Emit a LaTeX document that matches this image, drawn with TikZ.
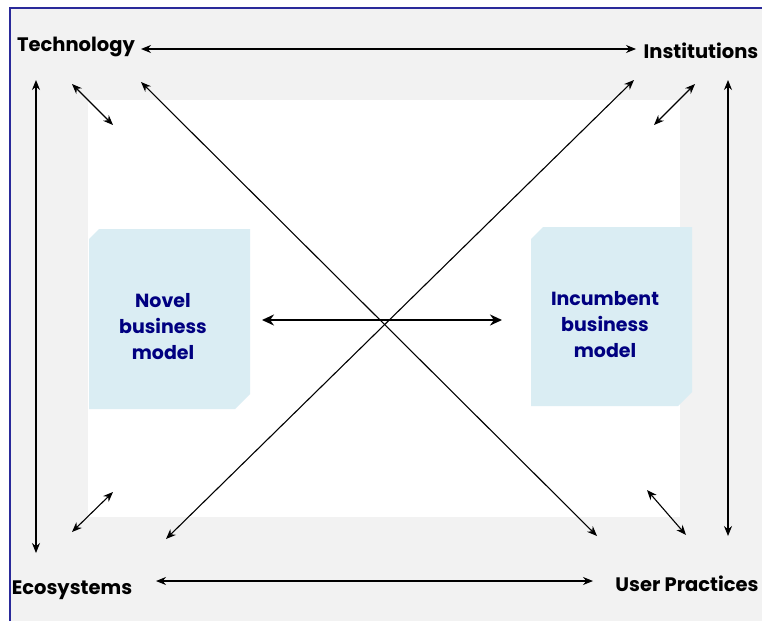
\documentclass[tikz,border=0pt]{standalone}
\usepackage{fontspec}
\setmainfont{Poppins}
\usetikzlibrary{arrows.meta}
\definecolor{bgray}{HTML}{F2F2F2}
\definecolor{boxblue}{HTML}{DAEDF3}
\definecolor{navytext}{HTML}{000080}
\definecolor{frameblue}{HTML}{2A2A9A}
\tikzset{
  lbl/.style={font=\bfseries\fontsize{19.5}{22}\selectfont, text=black, inner sep=0pt},
  bmtext/.style={font=\bfseries\fontsize{19}{26}\selectfont, text=navytext, align=center, inner sep=0pt},
  rel/.style={line width=1.1pt, {Stealth[length=10pt,width=8pt]}-{Stealth[length=10pt,width=8pt]}},
  relthick/.style={line width=2.8pt, {Stealth[length=12pt,width=11pt]}-{Stealth[length=12pt,width=11pt]}},
  bmbox/.style={fill=boxblue, draw=none},
}
\begin{document}
\begin{tikzpicture}[x=1pt,y=-1pt]
\useasboundingbox (0,0) rectangle (762,621);
% backgrounds
\fill[bgray] (10,8) rectangle (762,621);
\fill[white] (88,100) rectangle (680,517);
\draw[frameblue, line width=1.2pt] (10,621) -- (10,8) -- (762,8);
% business model boxes
\fill[bmbox] (99,229) -- (250,229) -- (250,394) -- (235,409) -- (89,409) -- (89,239) -- cycle;
\fill[bmbox] (543,227) -- (692,227) -- (692,392) -- (678,406) -- (531,406) -- (531,239) -- cycle;
\node[bmtext] (novel) at (163,327) {Novel\\business\\model};
\node[bmtext] (incumbent) at (605,325) {Incumbent\\business\\model};
% labels
\node[lbl] (tech) at (76,47) {Technology};
\node[lbl] (inst) at (701,51) {Institutions};
\node[lbl] (eco) at (72,590) {Ecosystems};
\node[lbl] (user) at (687,584) {User Practices};
% arrow end coordinates
\coordinate (th) at (141,49);
\coordinate (ih) at (636,49);
\coordinate (eh) at (156,581);
\coordinate (uh) at (593,581);
\coordinate (tv) at (36,80);
\coordinate (ev) at (36,553);
\coordinate (iv) at (728,80);
\coordinate (uv) at (728,536);
\coordinate (td1) at (72,84);
\coordinate (td2) at (113,125);
\coordinate (id1) at (695,84);
\coordinate (id2) at (654,125);
\coordinate (ed1) at (113,492);
\coordinate (ed2) at (72,532);
\coordinate (ud1) at (647,490);
\coordinate (ud2) at (686,535);
\coordinate (tx) at (141,82);
\coordinate (ux) at (597,536);
\coordinate (ix) at (634,80);
\coordinate (ex) at (166,539);
\coordinate (nc) at (262,320);
\coordinate (ic) at (502,320);
% arrows
\draw[rel] (th) -- (ih);
\draw[rel] (eh) -- (uh);
\draw[rel] (tv) -- (ev);
\draw[rel] (iv) -- (uv);
\draw[rel] (td1) -- (td2);
\draw[rel] (id1) -- (id2);
\draw[rel] (ed1) -- (ed2);
\draw[rel] (ud1) -- (ud2);
\draw[rel] (tx) -- (ux);
\draw[rel] (ix) -- (ex);
\draw[relthick] (nc) -- (ic);
\end{tikzpicture}
\end{document}
